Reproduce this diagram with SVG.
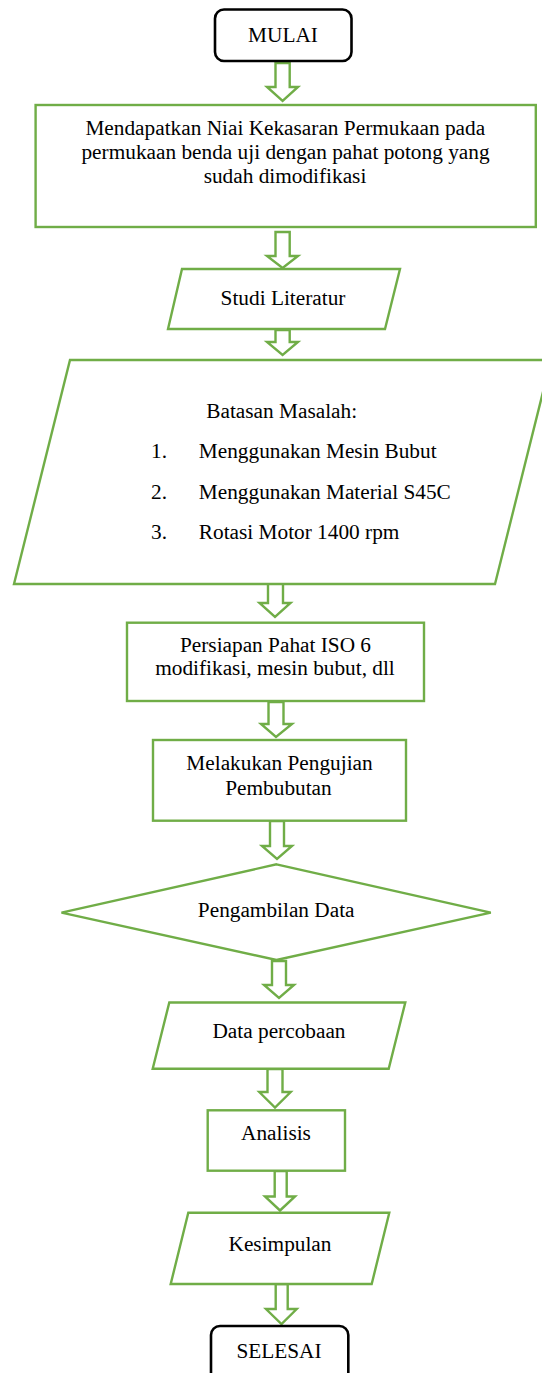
<svg xmlns="http://www.w3.org/2000/svg" width="542" height="1373" viewBox="0 0 542 1373">
<style>
.g{fill:#fff;stroke:#70AD47;stroke-width:2.4}
.t{fill:#fff;stroke:#000;stroke-width:2.6}
.a{fill:#fff;stroke:#70AD47;stroke-width:2.4;stroke-linejoin:miter}
text{font-family:"Liberation Serif","Times New Roman",serif;font-size:21.3px;fill:#000}
.c{text-anchor:middle}
</style>
<rect width="542" height="1373" fill="#fff"/>
<g id="connectors">
<polygon class="a" points="275.5,63 289.7,63 289.7,87 298,87 282.6,101 267,87 275.5,87"/>
<polygon class="a" points="275.5,232 289.7,232 289.7,256 298,256 282.6,268 267,256 275.5,256"/>
<polygon class="a" points="275.5,330 289.7,330 289.7,342 298,342 282.6,355 267,342 275.5,342"/>
<polygon class="a" points="268,581 283,581 283,603 290.5,603 275,617 259.5,603 268,603"/>
<polygon class="a" points="268.5,702 283.5,702 283.5,724 292,724 276,737 261,724 268.5,724"/>
<polygon class="a" points="270,821 284,821 284,846 292,846 277,859 262,846 270,846"/>
<polygon class="a" points="272,961 286,961 286,985 294,985 279,998 264,985 272,985"/>
<polygon class="a" points="267.5,1069 282.5,1069 282.5,1092 290.7,1092 275,1107.5 259.3,1092 267.5,1092"/>
<polygon class="a" points="274.7,1171 286.7,1171 286.7,1196.5 295,1196.5 280,1210.5 265,1196.5 274.7,1196.5"/>
<polygon class="a" points="275.7,1284 287.7,1284 287.7,1309 296.7,1309 281.5,1324 266,1309 275.7,1309"/>
</g>
<g id="mulai">
<rect class="t" x="215" y="9.5" width="136.5" height="51.5" rx="9"/>
<text class="c" x="283" y="42">MULAI</text>
</g>
<g id="tujuan">
<rect class="g" x="35.6" y="105" width="500.2" height="122"/>
<text class="c" x="285.3" y="135">Mendapatkan Niai Kekasaran Permukaan pada</text>
<text class="c" x="285.5" y="159">permukaan benda uji dengan pahat potong yang</text>
<text class="c" x="285" y="183">sudah dimodifikasi</text>
</g>
<g id="studi">
<polygon class="g" points="182,269 400,269 385,329 168,329"/>
<text class="c" x="283" y="305">Studi Literatur</text>
</g>
<g id="batasan">
<polygon class="g" points="70,360 551,360 495,584 14,584"/>
<text class="c" x="281.7" y="418">Batasan Masalah:</text>
<text x="151" y="458">1.</text>
<text x="198.8" y="458">Menggunakan Mesin Bubut</text>
<text x="151" y="499">2.</text>
<text x="198.8" y="499">Menggunakan Material S45C</text>
<text x="151" y="539">3.</text>
<text x="198.8" y="539">Rotasi Motor 1400 rpm</text>
</g>
<g id="persiapan">
<rect class="g" x="127" y="622.7" width="297" height="78.3"/>
<text class="c" x="275.5" y="652">Persiapan Pahat ISO 6</text>
<text class="c" x="275" y="675">modifikasi, mesin bubut, dll</text>
</g>
<g id="pengujian">
<rect class="g" x="153" y="740" width="253" height="80.7"/>
<text class="c" x="279.5" y="770">Melakukan Pengujian</text>
<text class="c" x="278.5" y="795">Pembubutan</text>
</g>
<g id="pengambilan">
<polygon class="g" points="276.5,864.3 490.8,912.7 276.5,960 61.5,912.7"/>
<text class="c" x="276.2" y="917">Pengambilan Data</text>
</g>
<g id="data">
<polygon class="g" points="169.3,1002.5 405.3,1002.5 388.7,1068.7 152.7,1068.7"/>
<text class="c" x="279" y="1038">Data percobaan</text>
</g>
<g id="analisis">
<rect class="g" x="207.7" y="1110.3" width="137.3" height="60.4"/>
<text class="c" x="276" y="1140">Analisis</text>
</g>
<g id="kesimpulan">
<polygon class="g" points="188.3,1212.7 389.3,1212.7 371.7,1284 170.7,1284"/>
<text class="c" x="280" y="1250.7">Kesimpulan</text>
</g>
<g id="selesai">
<rect class="t" x="211" y="1326" width="137.3" height="60" rx="9"/>
<text class="c" x="279" y="1358">SELESAI</text>
</g>
</svg>
